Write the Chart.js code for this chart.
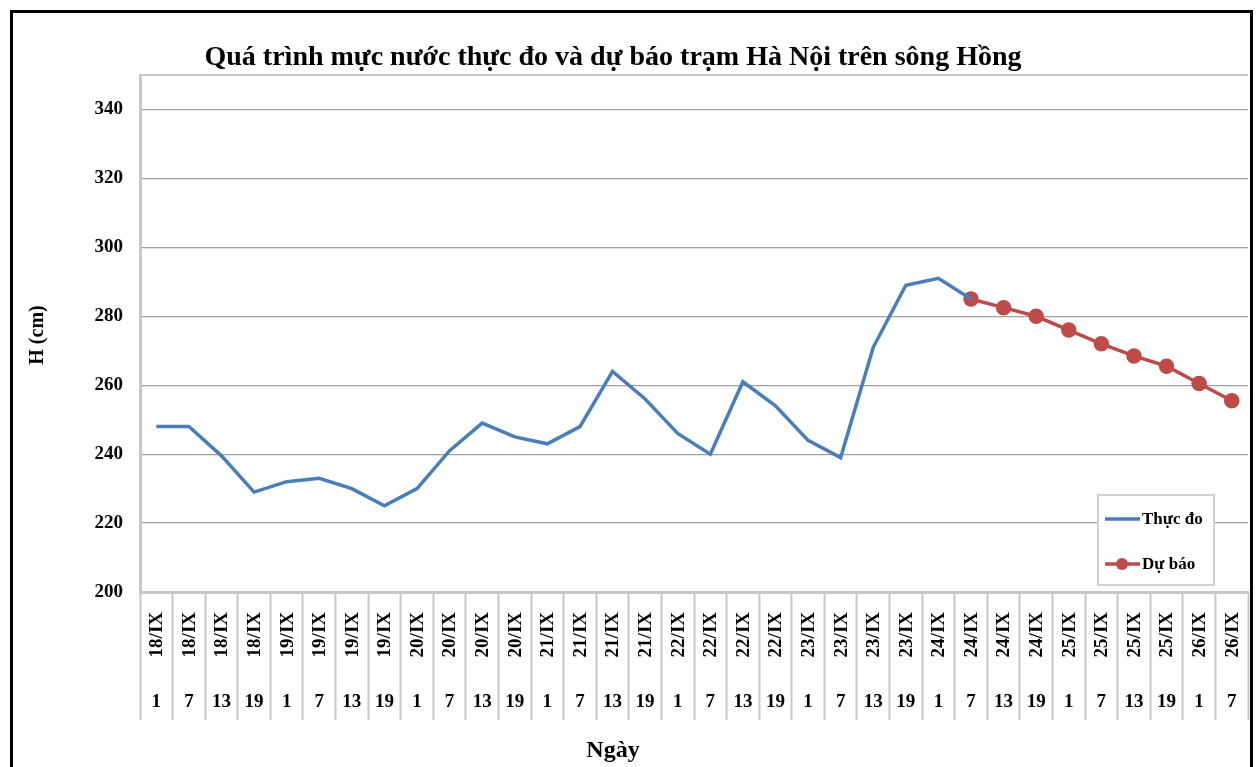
<!DOCTYPE html>
<html>
<head>
<meta charset="utf-8">
<script src="https://cdn.jsdelivr.net/npm/chart.js@4/dist/chart.umd.min.js"></script>
<style>
  body { margin: 0; background: #fff; }
</style>
</head>
<body>
<canvas id="chart" width="1259" height="767"></canvas>
<script>
// Ngày / giờ cho từng mốc quan trắc
const ngay = ['18/IX','18/IX','18/IX','18/IX','19/IX','19/IX','19/IX','19/IX',
              '20/IX','20/IX','20/IX','20/IX','21/IX','21/IX','21/IX','21/IX',
              '22/IX','22/IX','22/IX','22/IX','23/IX','23/IX','23/IX','23/IX',
              '24/IX','24/IX','24/IX','24/IX','25/IX','25/IX','25/IX','25/IX',
              '26/IX','26/IX'];
const gio = ['1','7','13','19','1','7','13','19','1','7','13','19','1','7','13','19',
             '1','7','13','19','1','7','13','19','1','7','13','19','1','7','13','19',
             '1','7'];

// Mực nước (cm)
const thucDo = [248, 248, 239.5, 229, 232, 233, 230, 225,
                230, 241, 249, 245, 243, 248, 264, 256,
                246, 240, 261, 254, 244, 239, 271, 289,
                291, 285, null, null, null, null, null, null,
                null, null];
const duBao = [null, null, null, null, null, null, null, null,
               null, null, null, null, null, null, null, null,
               null, null, null, null, null, null, null, null,
               null, 285, 282.5, 280, 276, 272, 268.5, 265.5,
               260.5, 255.5];

const yTicks = [200, 220, 240, 260, 280, 300, 320, 340];

const SERIF = '"Liberation Serif", "Times New Roman", serif';

// vẽ khung, tiêu đề, nhãn trục X hai tầng và chú giải
const decor = {
  id: 'decor',
  afterDraw(chart) {
    const ctx = chart.ctx;
    const x = chart.scales.x;
    ctx.save();

    // khung ngoài
    ctx.strokeStyle = '#000';
    ctx.lineWidth = 3;
    ctx.strokeRect(11.5, 11.5, 1240, 800);

    ctx.fillStyle = '#000';
    ctx.textAlign = 'center';
    ctx.textBaseline = 'middle';
    ctx.font = 'bold 28px ' + SERIF;
    ctx.fillText('Quá trình mực nước thực đo và dự báo trạm Hà Nội trên sông Hồng', 613, 58);

    ctx.font = 'bold 24px ' + SERIF;
    ctx.fillText('Ngày', 613, 751);

    ctx.save();
    ctx.translate(38, 335);
    ctx.rotate(-Math.PI / 2);
    ctx.font = 'bold 20px ' + SERIF;
    ctx.fillText('H (cm)', 0, 0);
    ctx.restore();

    // nhãn trục X
    ctx.font = 'bold 19px ' + SERIF;
    ngay.forEach((d, i) => {
      const px = x.getPixelForValue(i);
      ctx.save();
      ctx.translate(px, 612);
      ctx.rotate(-Math.PI / 2);
      ctx.textAlign = 'right';
      ctx.fillText(d, 0, 1);
      ctx.restore();
      ctx.fillText(gio[i], px, 702);
    });

    // chú giải
    const lx = 1098, ly = 495, lw = 116, lh = 90;
    ctx.fillStyle = '#fff';
    ctx.fillRect(lx, ly, lw, lh);
    ctx.strokeStyle = '#d0d0d0';
    ctx.lineWidth = 2;
    ctx.strokeRect(lx, ly, lw, lh);

    const ds = chart.data.datasets;
    const rows = [519, 564];
    ds.forEach((s, k) => {
      ctx.strokeStyle = s.borderColor;
      ctx.lineWidth = s.borderWidth;
      ctx.beginPath();
      ctx.moveTo(1105, rows[k]);
      ctx.lineTo(1140, rows[k]);
      ctx.stroke();
      if (s.pointRadius > 0) {
        ctx.fillStyle = s.pointBackgroundColor;
        ctx.beginPath();
        ctx.arc(1122, rows[k], s.pointRadius, 0, Math.PI * 2);
        ctx.fill();
      }
      ctx.fillStyle = '#000';
      ctx.textAlign = 'left';
      ctx.font = 'bold 17px ' + SERIF;
      ctx.fillText(s.label, 1142, rows[k] + 1);
    });

    ctx.restore();
  }
};

new Chart(document.getElementById('chart'), {
  type: 'line',
  data: {
    labels: ngay.map((d, i) => d + ' ' + gio[i]),
    datasets: [
      {
        label: 'Thực đo',
        data: thucDo,
        borderColor: '#4a7ebb',
        backgroundColor: '#4a7ebb',
        borderWidth: 3.5,
        pointRadius: 0,
        tension: 0,
        spanGaps: false
      },
      {
        label: 'Dự báo',
        data: duBao,
        borderColor: '#be4b48',
        backgroundColor: '#be4b48',
        pointBackgroundColor: '#be4b48',
        pointBorderColor: '#be4b48',
        borderWidth: 3.5,
        pointRadius: 6,
        tension: 0
      }
    ]
  },
  options: {
    responsive: false,
    animation: false,
    events: [],
    layout: { padding: { top: 75, right: 11, left: 0, bottom: 0 } },
    plugins: {
      legend: { display: false },
      title: { display: false },
      tooltip: { enabled: false }
    },
    scales: {
      x: {
        offset: true,
        afterFit: s => { s.height = 175; },
        grid: {
          offset: true,
          drawOnChartArea: false,
          drawTicks: true,
          tickLength: 128,
          tickColor: '#c8c8c8',
          tickWidth: 2
        },
        border: { color: '#c8c8c8', width: 3 },
        ticks: { display: false }
      },
      y: {
        min: 200,
        max: 350,
        afterFit: s => { s.width = 140; },
        afterBuildTicks: s => {
          s.ticks = yTicks.map(v => ({ value: v })).concat([{ value: 350 }]);
        },
        grid: {
          drawTicks: false,
          color: c => (c.tick && c.tick.value === 350) ? '#c8c8c8' : '#a0a0a0',
          lineWidth: c => (c.tick && c.tick.value === 350) ? 2 : 1.2
        },
        border: { color: '#c8c8c8', width: 3 },
        ticks: {
          padding: 17,
          color: '#000',
          font: { family: SERIF, size: 19, weight: 'bold' },
          callback: v => (yTicks.includes(v) ? String(v) : '')
        }
      }
    }
  },
  plugins: [decor]
});
</script>
</body>
</html>
